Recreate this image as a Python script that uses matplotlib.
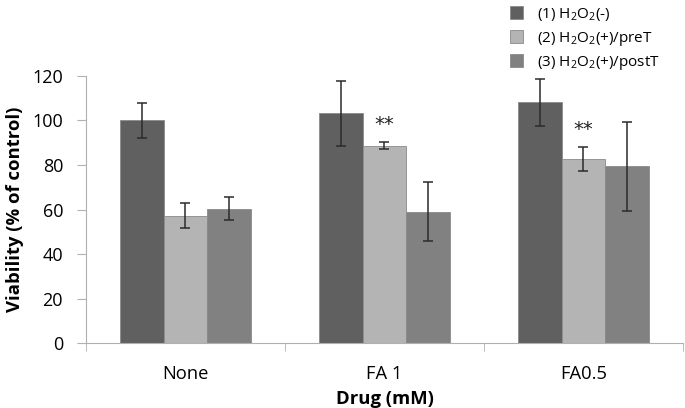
import numpy as np
import matplotlib.pyplot as plt

plt.rcParams['font.family'] = ['Open Sans', 'DejaVu Sans']
plt.rcParams['mathtext.fontset'] = 'custom'
plt.rcParams['mathtext.rm'] = 'Open Sans'
plt.rcParams['mathtext.it'] = 'Open Sans'

drugs = ['None', 'FA 1', 'FA0.5']
series_names = [r'(1) H$_2$O$_2$(-)', r'(2) H$_2$O$_2$(+)/preT', r'(3) H$_2$O$_2$(+)/postT']
h2o2_neg = [100, 103.2, 108.2]
h2o2_pre = [57.2, 88.7, 82.7]
h2o2_post = [60.4, 59.0, 79.4]
err_neg = [7.8, 14.7, 10.6]
err_pre = [5.5, 1.4, 5.2]
err_post = [5.3, 13.2, 20.0]
stars = ['', '**', '**']

colors = ['#606060', '#b4b4b4', '#818181']
values = [h2o2_neg, h2o2_pre, h2o2_post]
errors = [err_neg, err_pre, err_post]

fig = plt.figure(figsize=(6.85, 4.08), dpi=100)
ax = fig.add_axes([0.1255, 0.159, 0.8715, 0.655])

x = np.arange(len(drugs))
w = 0.22
for i in range(3):
    ax.bar(x + (i - 1) * w, values[i], w, color=colors[i], edgecolor='#8a8a8a',
           linewidth=0.6, label=series_names[i], zorder=2)
    ax.errorbar(x + (i - 1) * w, values[i], yerr=errors[i], fmt='none',
                ecolor='#2b2b2b', elinewidth=1.1, capsize=3.5, capthick=1.1, zorder=3)

# significance marks above the preT bars
for j, s in enumerate(stars):
    if s:
        top = h2o2_pre[j] + err_pre[j]
        ax.text(x[j], top + 5.5, s, ha='center', va='baseline', fontsize=14,
                family='DejaVu Sans', color='#222222')

ax.set_xlim(-0.5, 2.5)
ax.set_ylim(0, 120)
ax.set_yticks(range(0, 121, 20))
ax.set_xticks(x)
ax.set_xticklabels(drugs)
ax.set_xticks([-0.5, 0.5, 1.5, 2.5], minor=True)
ax.tick_params(axis='x', which='major', length=0, pad=16, labelsize=13.2)
ax.tick_params(axis='x', which='minor', length=6, color='#b0b0b0', direction='out')
ax.tick_params(axis='y', length=6.5, color='#b0b0b0', labelsize=13, pad=10)

for sp in ['top', 'right']:
    ax.spines[sp].set_visible(False)
for sp in ['left', 'bottom']:
    ax.spines[sp].set_color('#b0b0b0')

ax.set_ylabel('Viability (% of control)', fontsize=13.3, fontweight='bold', labelpad=6)
ax.set_xlabel('Drug (mM)', fontsize=13.3, fontweight='bold', labelpad=5)

leg = fig.legend(loc='upper left', bbox_to_anchor=(0.735, 1.0), frameon=False,
                 fontsize=11, handlelength=0.9, handleheight=0.9, handletextpad=0.9,
                 labelspacing=0.42, borderaxespad=0)

fig.savefig('out.png', dpi=100)
